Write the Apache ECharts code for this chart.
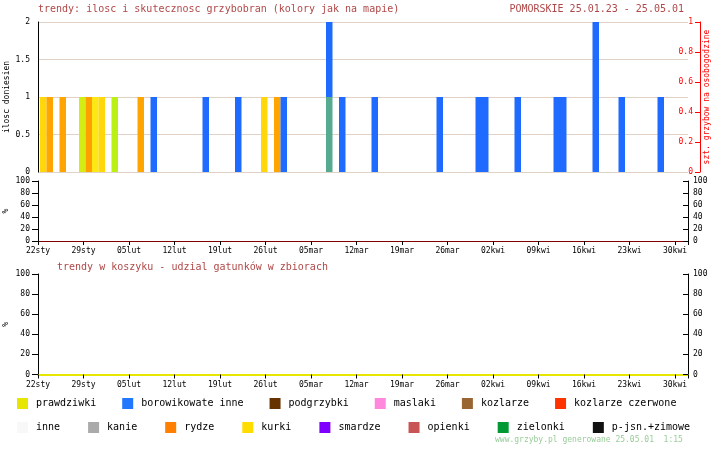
<!DOCTYPE html>
<html><head><meta charset="utf-8">
<script src="https://cdn.jsdelivr.net/npm/echarts@6/dist/echarts.min.js"></script>
<style>html,body{margin:0;padding:0;background:#fff}#c{width:726px;height:450px}</style>
</head><body><div id="c"></div>
<script>
// ---- data ----
const firstDay = [2025, 0, 23];   // first day slot on the axis
const dayCount = 100;
const tickLabels = ['22sty','29sty','05lut','12lut','19lut','26lut','05mar','12mar','19mar','26mar','02kwi','09kwi','16kwi','23kwi','30kwi'];
// each report = one unit, drawn in the day's slot, stacked
const reportDates = ['23.01','24.01','26.01','29.01','30.01','31.01','01.02','03.02','07.02','09.02','17.02','22.02','26.02','28.02','01.03','08.03','08.03','10.03','15.03','25.03','31.03','01.04','06.04','12.04','13.04','18.04','18.04','22.04','28.04'];
const reportColors = ['#FFD70A','#FFA400','#FFA400','#D5EB14','#FFA000','#FDE816','#FFD70A','#BBF014','#FFA500','#1F6BFF','#1F6BFF','#1F6BFF','#FFD70A','#FFA400','#1F6BFF','#55AA90','#1F6BFF','#1F6BFF','#1F6BFF','#1F6BFF','#1F6BFF','#1F6BFF','#1F6BFF','#1F6BFF','#1F6BFF','#1F6BFF','#1F6BFF','#1F6BFF','#1F6BFF'];
const speciesRow1 = ['prawdziwki','borowikowate inne','podgrzybki','maslaki','kozlarze','kozlarze czerwone'];
const colorsRow1 = ['#E6E600','#2277FF','#663300','#FF88DD','#996633','#FF3300'];
const speciesRow2 = ['inne','kanie','rydze','kurki','smardze','opienki','zielonki','p-jsn.+zimowe'];
const colorsRow2 = ['#F8F8F8','#AAAAAA','#FF8000','#FFDD00','#8000FF','#C85555','#009933','#111111'];
const titleMain = 'trendy: ilosc i skutecznosc grzybobran (kolory jak na mapie)';
const titleRegion = 'POMORSKIE 25.01.23 - 25.05.01';
const titleBasket = 'trendy w koszyku - udzial gatunków w zbiorach';
const footer = 'www.grzyby.pl generowane 25.05.01  1:15';

// ---- build ----
const pad = n => (n < 10 ? '0' : '') + n;
const days = [];
for (let i = 0; i < dayCount; i++) {
  const d = new Date(firstDay[0], firstDay[1], firstDay[2] + i);
  days.push(pad(d.getDate()) + '.' + pad(d.getMonth() + 1));
}
const layers = [];
const perDay = {};
reportDates.forEach((dt, i) => {
  const k = perDay[dt] || 0; perDay[dt] = k + 1;
  if (!layers[k]) layers[k] = days.map(() => '-');
  layers[k][days.indexOf(dt)] = { value: 1, itemStyle: { color: reportColors[i] } };
});

const MONO = 'DejaVu Sans Mono';
const lbl = (extra) => Object.assign({ fontFamily: MONO, fontSize: 8, color: '#000' }, extra || {});
const xTicks = (grid, lineColor, lineWidth) => ({
  gridIndex: grid, type: 'value', min: 0, max: dayCount, interval: 7,
  axisLine: { show: true, lineStyle: { color: lineColor, width: lineWidth } },
  axisTick: { show: true, length: 4, lineStyle: { color: '#000' } },
  splitLine: { show: false },
  axisLabel: lbl({ margin: 6, formatter: v => (v % 7 === 0 && v / 7 < tickLabels.length) ? tickLabels[v / 7] : '' })
});
const yPct = (grid, right) => ({
  gridIndex: grid, type: 'value', min: 0, max: 100, interval: 20, position: right ? 'right' : 'left',
  name: right ? '' : '%', nameLocation: 'middle', nameGap: 28, nameRotate: 90, nameMoveOverlap: false,
  nameTextStyle: { fontFamily: MONO, fontSize: 8, color: '#000' },
  axisLine: { show: true, lineStyle: { color: '#000' } },
  axisTick: { show: true, inside: !!right, length: right ? 5 : 6, lineStyle: { color: '#000' } },
  splitLine: { show: false },
  axisLabel: lbl({ margin: right ? 5 : 8 })
});

const series = [];
layers.forEach(data => series.push({
  type: 'bar', xAxisIndex: 1, yAxisIndex: 2, stack: 'reports', data: data,
  barCategoryGap: '0%', barWidth: '100%', silent: true
}));
speciesRow1.concat(speciesRow2).forEach((s, i) => series.push({
  type: 'bar', name: s, xAxisIndex: 3, yAxisIndex: 5, data: [],
  itemStyle: { color: colorsRow1.concat(colorsRow2)[i] }
}));

const legendBase = {
  icon: 'rect', itemWidth: 11, itemHeight: 11, padding: 0, selectedMode: false, orient: 'horizontal',
  textStyle: { fontFamily: MONO, fontSize: 10, color: '#000', padding: [0, 0, 0, 3] }
};
const gridBase = { containLabel: false, outerBoundsMode: 'none' };

const chart = echarts.init(document.getElementById('c'), null, { renderer: 'canvas' });
chart.setOption({
  animation: false,
  backgroundColor: '#fff',
  grid: [
    Object.assign({ left: 38, top: 22, width: 650, height: 150 }, gridBase),
    Object.assign({ left: 40, top: 22, width: 650, height: 150 }, gridBase),
    Object.assign({ left: 38, top: 181, width: 650, height: 60 }, gridBase),
    Object.assign({ left: 38, top: 274, width: 650, height: 100.5 }, gridBase)
  ],
  xAxis: [
    { gridIndex: 0, type: 'value', min: 0, max: dayCount, show: false },
    { gridIndex: 1, type: 'category', data: days, show: false, boundaryGap: true },
    xTicks(2, '#800000', 1),
    xTicks(3, '#E6E600', 2)
  ],
  yAxis: [
    { gridIndex: 0, type: 'value', min: 0, max: 2, interval: 0.5, position: 'left',
      name: 'ilosc doniesien', nameLocation: 'middle', nameGap: 27, nameRotate: 90, nameMoveOverlap: false,
      nameTextStyle: { fontFamily: MONO, fontSize: 8, color: '#000' },
      axisLine: { show: true, lineStyle: { color: '#000' } }, axisTick: { show: false },
      splitLine: { show: true, lineStyle: { color: '#E2D2C6', width: 1 } },
      axisLabel: lbl({ margin: 8 }) },
    { gridIndex: 0, type: 'value', min: 0, max: 1, interval: 0.2, position: 'right', offset: 12,
      name: 'szt. grzybow na osobogodzine', nameLocation: 'middle', nameGap: 3, nameRotate: 90, nameMoveOverlap: false,
      nameTextStyle: { fontFamily: MONO, fontSize: 8, color: '#FF0000' },
      axisLine: { show: true, lineStyle: { color: '#FF0000' } },
      axisTick: { show: true, inside: true, length: 5, lineStyle: { color: '#FF0000' } },
      splitLine: { show: false },
      axisLabel: lbl({ inside: true, margin: 7, color: '#FF0000' }) },
    { gridIndex: 1, type: 'value', min: 0, max: 2, show: false },
    yPct(2, false), yPct(2, true), yPct(3, false), yPct(3, true)
  ],
  legend: [
    Object.assign({}, legendBase, { data: speciesRow1, left: 17, top: 398, itemGap: 26 }),
    Object.assign({}, legendBase, { data: speciesRow2, left: 17, top: 422, itemGap: 28 })
  ],
  graphic: [
    { type: 'text', silent: true, style: { x: 38, y: 9, text: titleMain, fill: '#B04848', font: '10px "DejaVu Sans Mono"', align: 'left', verticalAlign: 'middle' } },
    { type: 'text', silent: true, style: { x: 684, y: 9, text: titleRegion, fill: '#B04848', font: '10px "DejaVu Sans Mono"', align: 'right', verticalAlign: 'middle' } },
    { type: 'text', silent: true, style: { x: 57, y: 267, text: titleBasket, fill: '#B04848', font: '10px "DejaVu Sans Mono"', align: 'left', verticalAlign: 'middle' } },
    { type: 'text', silent: true, style: { x: 495, y: 440, text: footer, fill: '#99CC99', font: '8px "DejaVu Sans Mono"', align: 'left', verticalAlign: 'middle' } }
  ],
  series: series
});
</script></body></html>
